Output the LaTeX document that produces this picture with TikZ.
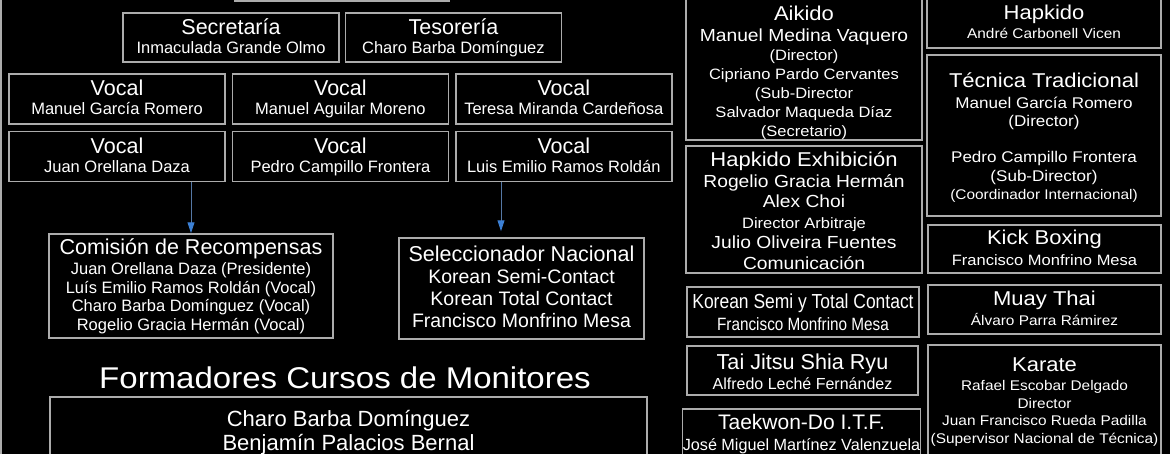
\documentclass[tikz,border=0pt]{standalone}
\usepackage{fontspec}
\setmainfont{Liberation Sans}
\newfontfamily\widefont[FakeStretch=1.1]{Liberation Sans}
\newfontfamily\narrowfont[FakeStretch=0.86]{Liberation Sans}
\usetikzlibrary{arrows.meta,positioning}
\definecolor{edgegrey}{RGB}{172,172,172}
\definecolor{arrblue}{RGB}{60,128,212}
\definecolor{arrline}{RGB}{85,120,165}
\newcommand\lnstrut{\rule[-0.22em]{0pt}{0.98em}}
\newcommand\ttlL{\fontsize{21.5}{24}\selectfont\lnstrut}
\newcommand\nameL{\fontsize{16.5}{19}\selectfont\lnstrut}
\newcommand\ttlR{\widefont\fontsize{20}{22}\selectfont\lnstrut}
\newcommand\nameRB{\widefont\fontsize{17.5}{20}\selectfont\lnstrut}
\newcommand\nameRS{\widefont\fontsize{15}{18}\selectfont\lnstrut}
\newcommand\nameRX{\widefont\fontsize{14}{17}\selectfont\lnstrut}

\begin{document}
\begin{tikzpicture}[x=1pt, y=-1pt,
  box/.style={draw=edgegrey, line width=1.4pt, text=white, align=center,
              inner sep=0pt, font=\fontsize{10}{19}\selectfont},
  lsp/.style={font=\fontsize{10}{#1}\selectfont},
  vocalbox/.style={box, minimum width=216, minimum height=50},
  arr/.style={-{Triangle[width=7pt, length=11pt, color=arrblue]}, draw=arrline, line width=1pt}]
  \fill[black] (0,0) rectangle (1170,454);
  \useasboundingbox (0,0) rectangle (1170,454);
  \clip (0,0) rectangle (1170,454);
  \draw[edgegrey, line width=1.4pt] (1,-5) -- (1,460);

  % junta directiva
  \node[box, minimum width=214, minimum height=42] (pres) at (342,-20) {};
  \node[box, minimum width=216, minimum height=49] (secr) at (231,37.5)
    {{\ttlL Secretaría}\\{\nameL Inmaculada Grande Olmo}};
  \node[box, minimum width=216, minimum height=49, right=5pt of secr] (teso)
    {{\ttlL Tesorería}\\{\nameL Charo Barba Domínguez}};
  \node[vocalbox] (v1) at (117,99) {{\ttlL Vocal}\\{\nameL Manuel García Romero}};
  \node[vocalbox, right=6pt of v1] (v2) {{\ttlL Vocal}\\{\nameL Manuel Aguilar Moreno}};
  \node[vocalbox, right=6pt of v2] (v3) {{\ttlL Vocal}\\{\nameL Teresa Miranda Cardeñosa}};
  \node[vocalbox, below=6pt of v1] (v4) {{\ttlL Vocal}\\{\nameL Juan Orellana Daza}};
  \node[vocalbox, right=6pt of v4] (v5) {{\ttlL Vocal}\\{\nameL Pedro Campillo Frontera}};
  \node[vocalbox, right=6pt of v5] (v6) {{\ttlL Vocal}\\{\nameL Luis Emilio Ramos Roldán}};

  % comisiones
  \node[box, lsp=18.7, minimum width=284, minimum height=104] (com) at (191,286)
    {{\ttlL Comisión de Recompensas}\\[1.5pt]
     {\nameL Juan Orellana Daza (Presidente)}\\{\nameL Luís Emilio Ramos Roldán (Vocal)}\\
     {\nameL Charo Barba Domínguez (Vocal)}\\{\nameL Rogelio Gracia Hermán (Vocal)}};
  \node[box, lsp=22, minimum width=245, minimum height=101] (sel) at (521.5,288.5)
    {{\ttlL Seleccionador Nacional}\\{\fontsize{19.5}{22}\selectfont\lnstrut Korean Semi-Contact}\\
     {\fontsize{19.5}{22}\selectfont\lnstrut Korean Total Contact}\\
     {\fontsize{19.5}{22}\selectfont\lnstrut Francisco Monfrino Mesa}};
  \coordinate (selin) at ([xshift=-20.5pt, yshift=6pt]sel.north);
  \draw[arr] (v4.south -| com.north) -- (com.north);
  \draw[arr] (v6.south -| selin) -- (selin);

  \node[text=white, font=\widefont\fontsize{30}{32}\selectfont] (formttl) at (345,378)
    {Formadores Cursos de Monitores};
  \node[box, lsp=24, minimum width=597, minimum height=72] (form) at (348.5,433)
    {{\fontsize{22}{24}\selectfont\lnstrut Charo Barba Domínguez}\\
     {\fontsize{22}{24}\selectfont\lnstrut Benjamín Palacios Bernal}};

  % disciplinas
  \node[box, lsp=19, minimum width=236, minimum height=141] (aik) at (804,69.5)
    {{\ttlR\rule{0pt}{22pt}Aikido}\\[2pt]{\nameRB Manuel Medina Vaquero}\\{\nameRS (Director)}\\
     {\nameRS Cipriano Pardo Cervantes}\\{\nameRS (Sub-Director}\\
     {\nameRS Salvador Maqueda Díaz}\\{\nameRS (Secretario)}};
  \node[box, lsp=20.5, minimum width=236, minimum height=127] (hex) at (804,209.5)
    {{\ttlR\rule{0pt}{21pt}Hapkido Exhibición}\\{\nameRB Rogelio Gracia Hermán}\\{\nameRB Alex Choi}\\
     {\nameRS Director Arbitraje}\\{\nameRB Julio Oliveira Fuentes}\\{\nameRB Comunicación}};
  \node[box, lsp=22, minimum width=232, minimum height=50] (kor) at (803,312)
    {{\narrowfont\fontsize{20.3}{22}\selectfont\lnstrut\rule{0pt}{19.5pt}Korean Semi y Total Contact}\\
     {\narrowfont\fontsize{17.8}{20}\selectfont\lnstrut Francisco Monfrino Mesa}};
  \node[box, lsp=20, minimum width=231, minimum height=49] (tai) at (802.5,370.5)
    {{\fontsize{21.6}{24}\selectfont\lnstrut\rule{0pt}{21.5pt}Tai Jitsu Shia Ryu}\\
     {\fontsize{16}{19}\selectfont\lnstrut Alfredo Leché Fernández}};
  \node[box, lsp=21, minimum width=233, minimum height=50] (tkd) at (801.5,434)
    {{\fontsize{21}{24}\selectfont\lnstrut Taekwon-Do I.T.F.}\\
     {\fontsize{16.2}{19}\selectfont\lnstrut José Miguel Martínez Valenzuela}};

  \node[box, lsp=19, minimum width=234, minimum height=50] (hap) at (1044,23)
    {{\ttlR Hapkido}\\{\nameRX André Carbonell Vicen}};
  \node[box, lsp=18.3, minimum width=234, minimum height=161] (tec) at (1044,135.5)
    {{\ttlR\rule{0pt}{19.5pt}Técnica Tradicional}\\[2pt]{\nameRS\fontsize{15.5}{18}\selectfont Manuel García Romero}\\
     {\nameRS\fontsize{15.5}{18}\selectfont (Director)}\\[18pt]
     {\nameRS\fontsize{15.5}{18}\selectfont Pedro Campillo Frontera}\\
     {\nameRS\fontsize{15.5}{18}\selectfont (Sub-Director)}\\{\nameRX (Coordinador Internacional)}};
  \node[box, lsp=21, minimum width=233, minimum height=48] (kick) at (1044.5,249)
    {{\ttlR Kick Boxing}\\{\nameRS Francisco Monfrino Mesa}};
  \node[box, lsp=20, minimum width=233, minimum height=49] (muay) at (1044.5,309.5)
    {{\ttlR Muay Thai}\\{\nameRX Álvaro Parra Rámirez}};
  \node[box, lsp=17.5, minimum width=233, minimum height=113] (kar) at (1044.5,401.5)
    {{\ttlR Karate}\\[1.5pt]{\nameRX Rafael Escobar Delgado}\\{\nameRX Director}\\
     {\nameRX Juan Francisco Rueda Padilla}\\{\nameRX (Supervisor Nacional de Técnica)}};
\end{tikzpicture}
\end{document}
